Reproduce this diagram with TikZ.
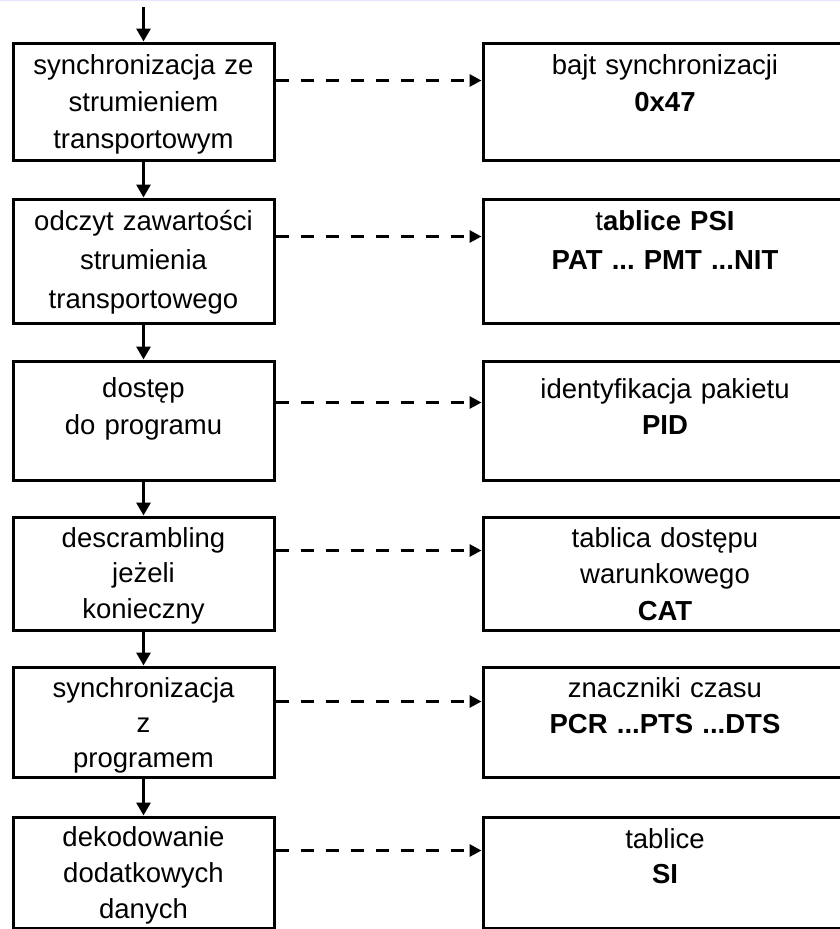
\documentclass[tikz,border=0pt]{standalone}
\usepackage{fontspec}
\setmainfont{Liberation Sans}
\frenchspacing
\usetikzlibrary{arrows.meta}

\tikzset{
  lines/.style={font=\fontsize{27.5}{#1}\selectfont},
  stage/.style 2 args={draw, line width=3pt, inner sep=0pt, align=center,
    lines=37pt, text height=#2, text depth=#1-#2},
  lstage/.style 2 args={stage={#1}{#2}, minimum width=261pt, text width=252pt},
  rstage/.style 2 args={stage={#1}{#2}, minimum width=364pt, text width=352pt},
  flow/.style={line width=3pt, -{Triangle[length=13pt,width=14pt]}},
  link/.style={line width=3pt, dash pattern=on 13pt off 12pt,
    -{Triangle[length=12pt,width=12pt]}},
}

\begin{document}
\begin{tikzpicture}[x=1pt,y=-1pt]
\useasboundingbox (0,0) rectangle (840,929);
\draw[blue!10, line width=2pt] (0,0) -- (840,0);

% left column
\coordinate (in) at (143.5,7);
\node[lstage={117pt}{31pt}] (l1) at (143.5,101.5) {synchronizacja ze\\strumieniem\\transportowym};
\node[lstage={124pt}{31pt}, lines=39pt] (l2) at (143.5,261) {odczyt zawartości\\strumienia\\transportowego};
\node[lstage={119pt}{36pt}] (l3) at (143.5,420.5) {dostęp\\do programu};
\node[lstage={113pt}{30pt}, lines=35.5pt] (l4) at (143.5,573.5) {descrambling\\jeżeli\\konieczny};
\node[lstage={110pt}{30pt}, lines=35pt] (l5) at (143.5,722) {synchronizacja\\z\\programem};
\node[lstage={111pt}{29pt}, lines=36pt] (l6) at (143.5,872.5) {dekodowanie\\dodatkowych\\danych};

% right column
\node[rstage={117pt}{31pt}] (r1) at (665,101.5) {bajt synchronizacji\\\textbf{0x47}};
\node[rstage={124pt}{31pt}, lines=39pt] (r2) at (665,261) {t\textbf{ablice PSI}\\\textbf{PAT ... PMT ...NIT}};
\node[rstage={119pt}{37pt}, lines=36pt] (r3) at (665,420.5) {identyfikacja pakietu\\\textbf{PID}};
\node[rstage={113pt}{30pt}, lines=36.5pt] (r4) at (665,573.5) {tablica dostępu\\warunkowego\\\textbf{CAT}};
\node[rstage={110pt}{30pt}, lines=36.5pt] (r5) at (665,722) {znaczniki czasu\\\textbf{PCR ...PTS ...DTS}};
\node[rstage={111pt}{31pt}, lines=35pt] (r6) at (665,872.5) {tablice\\\textbf{SI}};

\draw[flow] (in) -- (l1);
\draw[flow] (l1) -- (l2);
\draw[flow] (l2) -- (l3);
\draw[flow] (l3) -- (l4);
\draw[flow] (l4) -- (l5);
\draw[flow] (l5) -- (l6);

\draw[link] ([yshift=-39pt]l1.north east) -- ([yshift=-39pt]r1.north west);
\draw[link] ([yshift=-39pt]l2.north east) -- ([yshift=-39pt]r2.north west);
\draw[link] ([yshift=-43pt]l3.north east) -- ([yshift=-43pt]r3.north west);
\draw[link] ([yshift=-35pt]l4.north east) -- ([yshift=-35pt]r4.north west);
\draw[link] ([yshift=-36pt]l5.north east) -- ([yshift=-36pt]r5.north west);
\draw[link] ([yshift=-35pt]l6.north east) -- ([yshift=-35pt]r6.north west);
\end{tikzpicture}
\end{document}
